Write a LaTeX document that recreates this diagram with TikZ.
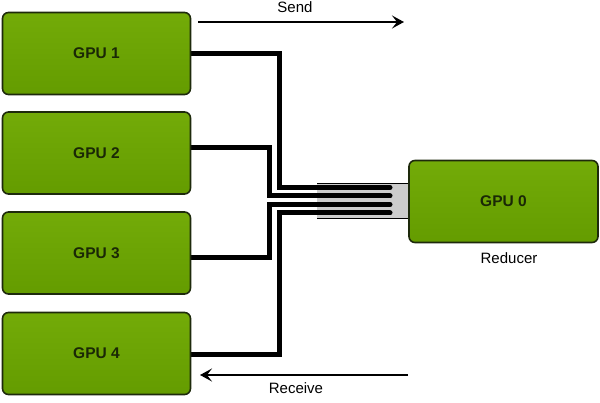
\documentclass[tikz,border=0pt]{standalone}
\usepackage{fontspec}
\setmainfont{Liberation Sans}
\usetikzlibrary{arrows.meta}
\pgfdeclarelayer{bg}
\pgfsetlayers{bg,main}
\definecolor{gputop}{HTML}{73AB08}
\definecolor{gpubot}{HTML}{649C00}
\definecolor{gpuedge}{HTML}{1E2A0C}
\definecolor{gputext}{HTML}{1A2806}
\definecolor{busgray}{HTML}{CCCCCC}
\tikzset{
  gpu/.style={draw=gpuedge, line width=1.6pt, rounded corners=6pt,
    top color=gputop, bottom color=gpubot,
    minimum width=188pt, minimum height=82pt, inner sep=0pt,
    font=\fontsize{15.5}{17}\selectfont\bfseries, text=gputext},
  wire/.style={line width=5pt, miter limit=10, line cap=round},
  label/.style={font=\fontsize{15}{17}\selectfont, inner sep=0pt},
  flow/.style={line width=2.2pt, -{Stealth[length=12pt,width=13pt,inset=5pt]}}
}
\begin{document}
\begin{tikzpicture}[x=1pt,y=-1pt]
\useasboundingbox (0,0) rectangle (600,403);
\node[gpu] (g1) at (96.5,53.5) {GPU 1};
\node[gpu] (g2) at (96.5,153) {GPU 2};
\node[gpu] (g3) at (96.5,253) {GPU 3};
\node[gpu] (g4) at (96.5,353.5) {GPU 4};
\node[gpu, minimum width=189pt] (g0) at (503.5,201.5) {GPU 0};
\node[label] (red) at (509,258) {Reducer};
\coordinate (b1) at (390,187.5);
\coordinate (b2) at (390,196);
\coordinate (b3) at (390,204.5);
\coordinate (b4) at (390,213);
\begin{pgfonlayer}{bg}
% bus background
\fill[busgray] (317,184) rectangle (g0.west |- 0,219);
\draw[line width=1pt] (317,184) -- (g0.west |- 0,184) (317,219) -- (g0.west |- 0,219);
% wires
\draw[wire] (g1.center) -- (279,53.5) |- (b1);
\draw[wire] ([yshift=5pt]g2.center) -- (269,148) |- (b2);
\draw[wire] ([yshift=-5pt]g3.center) -- (269,258) |- (b3);
\draw[wire] ([yshift=-1.5pt]g4.center) -- (279,355) |- (b4);
\end{pgfonlayer}
% send / receive
\coordinate (s0) at (198,22);
\coordinate (s1) at (404,22);
\coordinate (r0) at (408,375);
\coordinate (r1) at (200,375);
\draw[flow] (s0) -- (s1);
\node[label] (send) at (295,7) {Send};
\draw[flow] (r0) -- (r1);
\node[label] (recv) at (296,388) {Receive};
\end{tikzpicture}
\end{document}
